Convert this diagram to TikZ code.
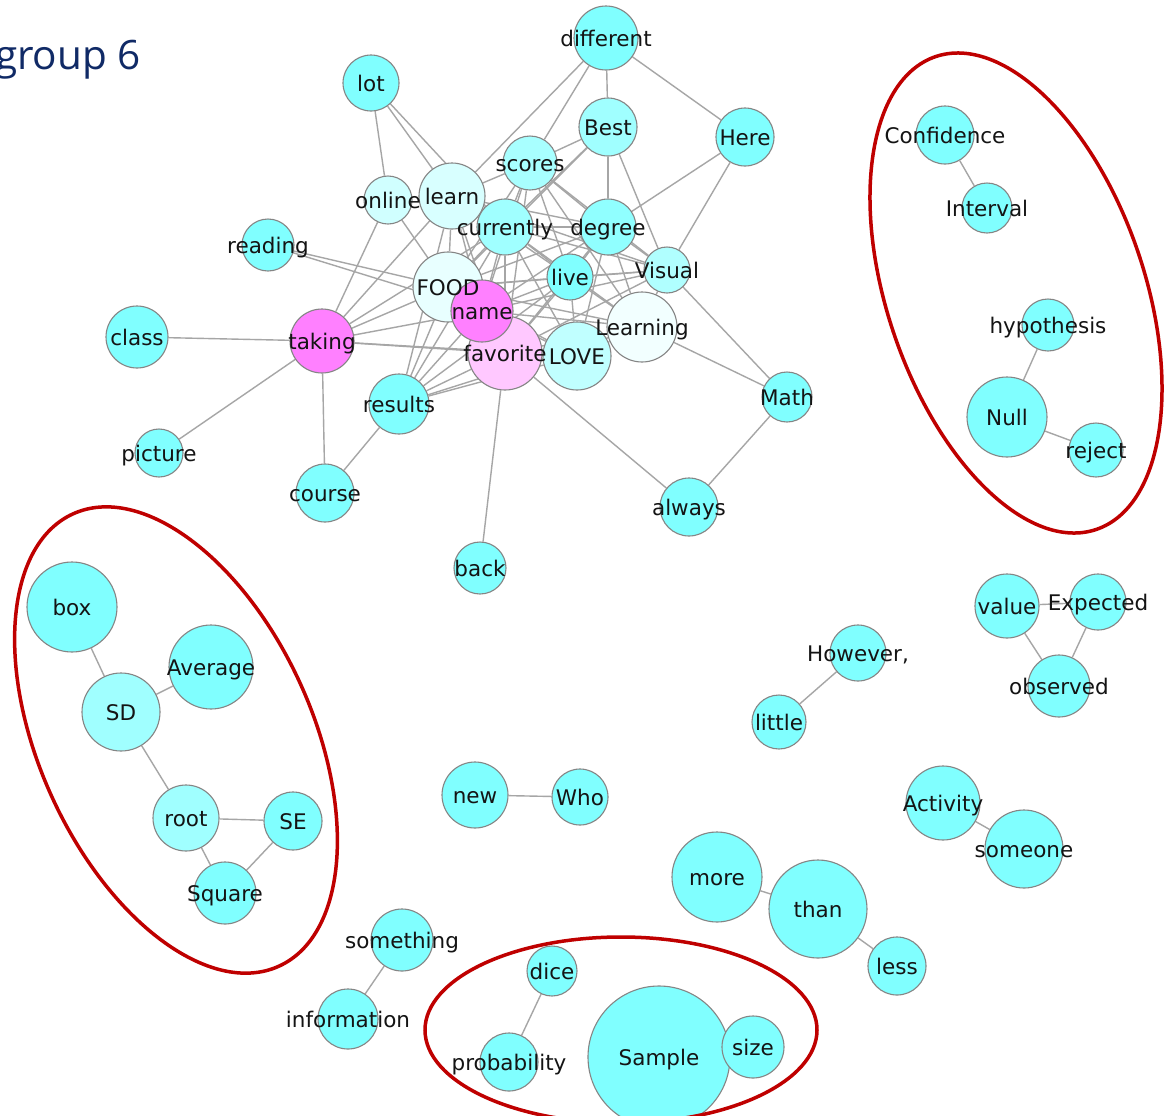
\documentclass[tikz,border=0pt]{standalone}
\usepackage{fontspec}
\setmainfont{DejaVu Sans}
\newfontfamily\titlefont{Open Sans}
\usetikzlibrary{backgrounds}
\definecolor{cy}{HTML}{80FFFF}
\definecolor{cyA}{HTML}{A0FFFF}
\definecolor{cyS}{HTML}{A8FFFF}
\definecolor{cyD}{HTML}{90FFFF}
\definecolor{cyV}{HTML}{B0FFFF}
\definecolor{cyL}{HTML}{C0FFFF}
\definecolor{cyO}{HTML}{D0FFFF}
\definecolor{cyLe}{HTML}{D8FFFF}
\definecolor{cyF}{HTML}{E8FFFF}
\definecolor{cyG}{HTML}{F2FFFF}
\definecolor{mg}{HTML}{FF80FF}
\definecolor{pk}{HTML}{FFC8FF}
\definecolor{nodeborder}{HTML}{858585}
\definecolor{edgegray}{HTML}{A6A6A6}
\definecolor{grpred}{HTML}{BF0000}
\definecolor{titleblue}{HTML}{102A66}
\newcommand\lblfont{\fontsize{21.5bp}{25bp}\selectfont}
\pgfdeclarelayer{paper}
\pgfsetlayers{paper,background,main}
\begin{document}
\begin{tikzpicture}[x=1bp,y=-1bp,
  vtx/.style={circle,draw=nodeborder,line width=1.1bp,inner sep=0pt},
  lbl/.style={inner sep=0pt,font=\lblfont,text=black!92,anchor=base,yshift=-8bp},
  edge/.style={draw=edgegray,line width=1.4bp},
  grp/.style={draw=grpred,line width=3.5bp}]
\begin{pgfonlayer}{paper}
\fill[white] (0,0) rectangle (1169,1116);
\end{pgfonlayer}
\useasboundingbox (0,0) rectangle (1169,1116);

% nodes: name/text/x/y/radius/colour
\foreach \n/\t/\x/\y/\r/\c in {
  different/different/606/38/32/cy,
  lot/lot/371/83/28/cy,
  Best/Best/608/127/29/cyA,
  Here/Here/745/137/29/cy,
  scores/scores/530/163/27/cyS,
  online/online/388/200/24/cyO,
  learn/learn/452/196/33/cyLe,
  currently/currently/505/227/28/cyA,
  degree/degree/608/227/28/cyD,
  reading/reading/268/245/26/cy,
  live/live/570/277/23/cy,
  Visual/Visual/667/270/23/cyV,
  FOOD/FOOD/448/287/35/cyF,
  favorite/favorite/505/353/37/pk,
  name/name/482/311/31/mg,
  Learning/Learning/642/327/35/cyG,
  LOVE/LOVE/577/356/34/cyL,
  taking/taking/322/341/32/mg,
  class/class/137/337/31/cy,
  results/results/399/404/30/cy,
  Math/Math/787/397/25/cy,
  picture/picture/159/453/24/cy,
  course/course/325/493/29/cy,
  always/always/689/507/29/cy,
  back/back/480/568/26/cy,
  Confidence/Confidence/945/135/29/cy,
  Interval/Interval/987/208/25/cy,
  hypothesis/hypothesis/1048/325/26/cy,
  Null/Null/1007/417/40/cy,
  reject/reject/1096/450/27/cy,
  box/box/72/607/45/cy,
  Average/Average/211/667/42/cy,
  SD/SD/121/712/39/cyA,
  root/root/186/818/33/cyA,
  SE/SE/293/821/29/cy,
  Square/Square/225/893/31/cy,
  value/value/1007/606/32/cy,
  Expected/Expected/1098/602/28/cy,
  observed/observed/1059/686/31/cy,
  However/{However,}/858/653/28/cy,
  little/little/779/722/27/cy,
  new/new/475/795/33/cy,
  Who/Who/580/797/28/cy,
  Activity/Activity/943/803/37/cy,
  someone/someone/1024/849/39/cy,
  more/more/717/877/45/cy,
  than/than/818/909/49/cy,
  less/less/897/966/29/cy,
  something/something/402/940/31/cy,
  information/information/348/1019/30/cy,
  dice/dice/552/971/25/cy,
  probability/probability/509/1062/29/cy,
  Sample/Sample/659/1057/71/cy,
  size/size/753/1047/31/cy}
  \node[vtx,minimum size=\r*2bp,fill=\c] (\n) at (\x,\y) {};

% labels on top of all circles
\foreach \n/\t in {different/different,lot/lot,Best/Best,Here/Here,scores/scores,
  online/online,learn/learn,currently/currently,degree/degree,reading/reading,
  live/live,Visual/Visual,FOOD/FOOD,favorite/favorite,name/name,Learning/Learning,
  LOVE/LOVE,taking/taking,class/class,results/results,Math/Math,picture/picture,
  course/course,always/always,back/back,Confidence/Confidence,Interval/Interval,
  hypothesis/hypothesis,Null/Null,reject/reject,box/box,Average/Average,SD/SD,
  root/root,SE/SE,Square/Square,value/value,Expected/Expected,observed/observed,
  However/{However,},little/little,new/new,Who/Who,Activity/Activity,
  someone/someone,more/more,than/than,less/less,something/something,
  information/information,dice/dice,probability/probability,Sample/Sample,size/size}
  \node[lbl] (l\n) at (\n) {\t};

% connectors behind the circles
\begin{scope}[on background layer]
\foreach \a/\b in {
  different/Best, different/Here, different/scores, different/learn,
  lot/online, lot/learn, lot/currently,
  Best/scores, Best/degree, Best/Visual, Best/currently, Best/FOOD,
  Here/degree, Here/Visual,
  scores/learn, scores/currently, scores/degree, scores/FOOD, scores/name,
  scores/live, scores/Learning, scores/favorite, scores/Visual,
  online/taking, online/FOOD,
  learn/taking, learn/FOOD, learn/name, learn/currently, learn/results,
  learn/degree, learn/live, learn/favorite, learn/Visual,
  currently/degree, currently/FOOD, currently/name, currently/live,
  currently/Visual, currently/Learning, currently/favorite, currently/results,
  currently/LOVE, currently/taking,
  degree/Visual, degree/live, degree/FOOD, degree/name, degree/Learning,
  degree/LOVE, degree/favorite,
  reading/FOOD, reading/name,
  live/Visual, live/FOOD, live/name, live/LOVE, live/favorite, live/Learning,
  live/results,
  Visual/Math, Visual/Learning, Visual/name, Visual/FOOD, Visual/favorite,
  Learning/Math, Learning/name, Learning/FOOD, Learning/favorite, Learning/LOVE,
  Learning/results,
  taking/class, taking/picture, taking/course, taking/FOOD, taking/name,
  taking/favorite, taking/LOVE,
  FOOD/name, FOOD/favorite, FOOD/results, FOOD/LOVE,
  name/favorite, name/results, name/LOVE,
  favorite/LOVE, favorite/results, favorite/back, favorite/always,
  LOVE/results, results/course, Math/always,
  Confidence/Interval, hypothesis/Null, Null/reject,
  box/SD, SD/Average, SD/root, root/SE, root/Square, SE/Square,
  value/observed, Expected/observed, value/Expected,
  However/little, new/Who, Activity/someone,
  more/than, than/less, something/information,
  dice/probability, Sample/size}
  \draw[edge] (\a) -- (\b);
\end{scope}

% group outlines
\draw[grp, rotate around={24.5:(176,740)}] (176,740) ellipse [x radius=136.5bp, y radius=248.5bp];
\draw[grp, rotate around={18.8:(1016,293)}] (1016,293) ellipse [x radius=128.7bp, y radius=249.7bp];
\draw[grp] (621,1030) ellipse [x radius=196bp, y radius=93bp];

% title
\node[anchor=base east,inner sep=0pt,text=titleblue,
  font=\titlefont\fontsize{40.5bp}{46bp}\selectfont] (title) at (141,69) {group 6};
\end{tikzpicture}
\end{document}
